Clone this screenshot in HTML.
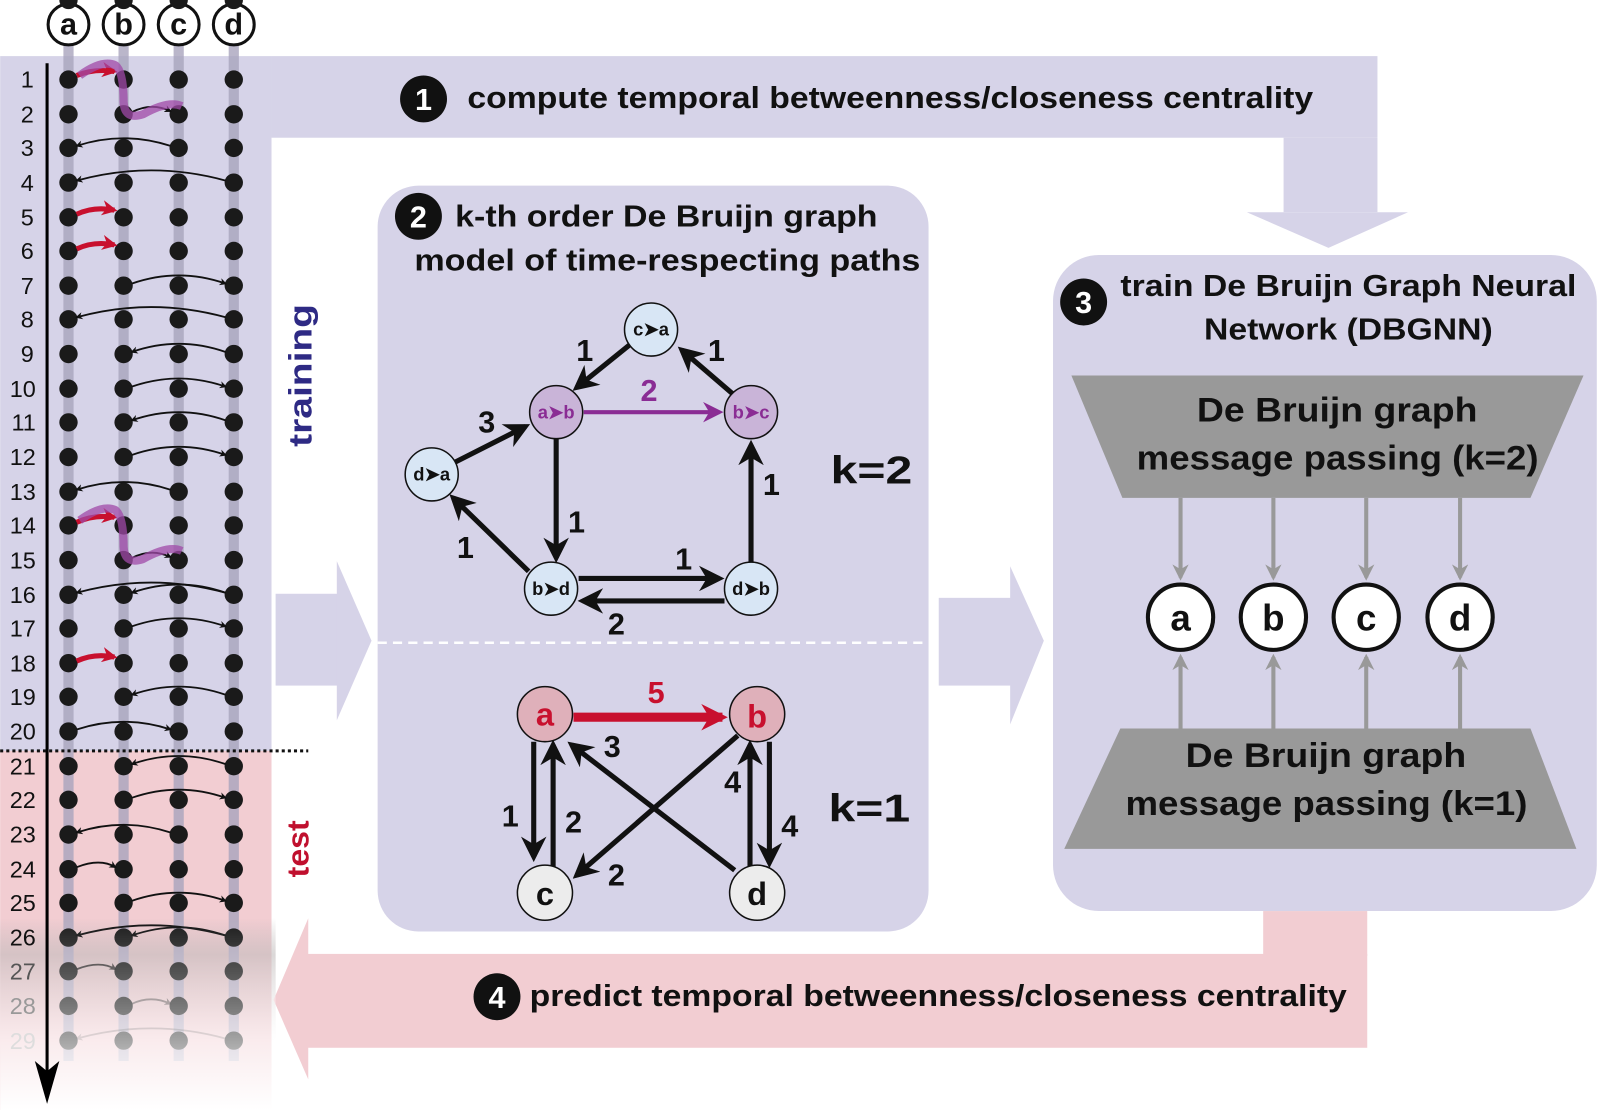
<!DOCTYPE html>
<html><head><meta charset="utf-8"><style>
html,body{margin:0;padding:0;background:#fff;}
svg{display:block;}
text{font-family:"Liberation Sans",sans-serif;}
.b{font-weight:bold;}
</style></head><body>
<svg width="1600" height="1110" viewBox="0 0 1568 1088" xmlns="http://www.w3.org/2000/svg">
<defs>
<marker id="ak" viewBox="0 0 10 10" refX="8" refY="5" markerWidth="5" markerHeight="5" orient="auto"><path d="M0,0 L10,5 L0,10 L3,5z" fill="#111"/></marker>
<marker id="ab" viewBox="0 0 10 10" refX="8" refY="5" markerWidth="4" markerHeight="4" orient="auto"><path d="M0,0 L10,5 L0,10 L3,5z" fill="#111"/></marker>
<marker id="ap" viewBox="0 0 10 10" refX="8" refY="5" markerWidth="5" markerHeight="5" orient="auto"><path d="M0,0 L10,5 L0,10 L3,5z" fill="#8a2c94"/></marker>
<marker id="ar" viewBox="0 0 10 10" refX="8" refY="5" markerWidth="3" markerHeight="3" orient="auto"><path d="M0,0 L10,5 L0,10 L3,5z" fill="#c8102e"/></marker>
<marker id="ag" viewBox="0 0 10 10" refX="8" refY="5" markerWidth="4" markerHeight="4" orient="auto"><path d="M0,0 L10,5 L0,10 L3,5z" fill="#999"/></marker>
<marker id="at" viewBox="0 0 10 10" refX="8" refY="5" markerWidth="26" markerHeight="26" markerUnits="userSpaceOnUse" orient="auto"><path d="M0,0 L10,5 L0,10 L3,5z" fill="#c8102e"/></marker>
<linearGradient id="fade" x1="0" y1="0" x2="0" y2="1"><stop offset="0" stop-color="#fff" stop-opacity="0"/><stop offset="0.45" stop-color="#fff" stop-opacity="0.4"/><stop offset="1" stop-color="#fff" stop-opacity="1"/></linearGradient>
<linearGradient id="gr" x1="0" y1="0" x2="0" y2="1"><stop offset="0" stop-color="#a8a0a0" stop-opacity="0"/><stop offset="0.3" stop-color="#a8a0a0" stop-opacity="0.5"/><stop offset="1" stop-color="#a8a0a0" stop-opacity="0"/></linearGradient>
</defs>

<rect x="0" y="55" width="266" height="681" fill="#d6d3e8"/>
<rect x="0" y="736" width="266" height="352" fill="#f2cdd2"/>
<rect x="0" y="900" width="270" height="120" fill="url(#gr)"/>
<rect x="266" y="55" width="1084" height="80" fill="#d6d3e8"/>
<rect x="1258" y="135" width="92" height="73" fill="#d6d3e8"/>
<polygon points="1222,208 1380,208 1302,243" fill="#d6d3e8"/>
<rect x="370" y="182" width="540" height="731" rx="40" fill="#d6d3e8"/>
<line x1="370" y1="630" x2="910" y2="630" stroke="#fff" stroke-width="2.5" stroke-dasharray="9,6"/>
<rect x="270" y="582" width="62" height="90" fill="#d6d3e8"/>
<polygon points="330,550 364,628 330,706" fill="#d6d3e8"/>
<rect x="920" y="586" width="72" height="86" fill="#d6d3e8"/>
<polygon points="990,555 1023,628 990,710" fill="#d6d3e8"/>
<rect x="1032" y="250" width="533" height="643" rx="45" fill="#d6d3e8"/>
<rect x="1238" y="893" width="102" height="44" fill="#f2cdd2"/>
<rect x="300" y="935" width="1040" height="92" fill="#f2cdd2"/>
<polygon points="302,900 268,980 302,1058" fill="#f2cdd2"/>

<g stroke="#a9a5bd" stroke-width="10" opacity="0.8">
<line x1="67" y1="45" x2="67" y2="1040"/><line x1="121" y1="45" x2="121" y2="1040"/><line x1="175" y1="45" x2="175" y2="1040"/><line x1="229" y1="45" x2="229" y2="1040"/>
</g>
<g fill="#fff" stroke="#111" stroke-width="3">
<circle cx="67" cy="24" r="20"/><circle cx="121" cy="24" r="20"/><circle cx="175" cy="24" r="20"/><circle cx="229" cy="24" r="20"/>
</g>
<g font-size="30" text-anchor="middle" fill="#111">
<text x="67" y="34" class="b">a</text><text x="121" y="34" class="b">b</text><text x="175" y="34" class="b">c</text><text x="229" y="34" class="b">d</text>
</g>

<g fill="#1a1a1a">
<g id="r"><circle cx="67" cy="0" r="9"/><circle cx="121" cy="0" r="9"/><circle cx="175" cy="0" r="9"/><circle cx="229" cy="0" r="9"/></g>
<use href="#r" y="78"/><use href="#r" y="112"/><use href="#r" y="145"/><use href="#r" y="179"/><use href="#r" y="213"/><use href="#r" y="246"/><use href="#r" y="280"/><use href="#r" y="313"/><use href="#r" y="347"/><use href="#r" y="381"/><use href="#r" y="414"/><use href="#r" y="448"/><use href="#r" y="482"/><use href="#r" y="515"/><use href="#r" y="549"/><use href="#r" y="583"/><use href="#r" y="616"/><use href="#r" y="650"/><use href="#r" y="683"/><use href="#r" y="717"/><use href="#r" y="751"/><use href="#r" y="784"/><use href="#r" y="818"/><use href="#r" y="852"/><use href="#r" y="885"/><use href="#r" y="919"/><use href="#r" y="952"/><use href="#r" y="986"/><use href="#r" y="1020"/>
</g>
<g fill="none" stroke="#111" stroke-width="1.8" marker-end="url(#ab)">
<path d="M129,110 Q148,100 167,109"/>
<path d="M167,143 Q121,128 75,143"/>
<path d="M221,177 Q148,157 75,177"/>
<path d="M129,278 Q175,262 221,278"/>
<path d="M221,311 Q148,291 75,311"/>
<path d="M221,345 Q175,329 129,345"/>
<path d="M129,379 Q175,363 221,379"/>
<path d="M221,412 Q175,396 129,412"/>
<path d="M129,446 Q175,430 221,446"/>
<path d="M167,480 Q121,465 75,480"/>
<path d="M129,547 Q148,537 167,546"/>
<path d="M221,581 Q148,561 75,581"/>
<path d="M221,581 Q175,565 129,581"/>
<path d="M129,614 Q175,598 221,614"/>
<path d="M221,681 Q175,665 129,681"/>
<path d="M75,715 Q121,700 167,715"/>
<path d="M221,749 Q175,733 129,749"/>
<path d="M129,782 Q175,766 221,782"/>
<path d="M167,816 Q121,801 75,816"/>
<path d="M75,850 Q98,841 113,850"/>
<path d="M129,883 Q175,867 221,883"/>
<path d="M221,917 Q148,897 75,917"/>
<path d="M221,917 Q175,901 129,917"/>
<path d="M75,950 Q98,941 113,950" opacity="0.8"/>
<path d="M129,984 Q148,975 167,984" opacity="0.5"/>
<path d="M221,1018 Q148,998 75,1018" opacity="0.3"/>
</g>
<g fill="none" stroke="#c8102e" stroke-width="5" marker-end="url(#ar)">
<path d="M75,74 Q92,67 112,70"/><path d="M75,210 Q92,202 112,206"/><path d="M75,244 Q92,236 112,240"/><path d="M75,512 Q92,504 112,507"/><path d="M75,648 Q92,640 112,644"/>
</g>
<g fill="none" stroke="#a04aa8" stroke-width="8" opacity="0.75" stroke-linejoin="round">
<path d="M78,74 Q100,58 113,64 Q121,70 121,100 Q122,118 140,112 Q165,98 178,104"/>
<path d="M78,510 Q100,494 113,500 Q121,506 121,536 Q122,554 140,548 Q165,534 178,540"/>
</g>
<rect x="0" y="900" width="270" height="188" fill="url(#fade)"/>
<g font-size="23" fill="#111" text-anchor="end">
<text x="33" y="86">1</text><text x="33" y="120">2</text><text x="33" y="153">3</text><text x="33" y="187">4</text><text x="33" y="221">5</text><text x="33" y="254">6</text><text x="33" y="288">7</text><text x="33" y="321">8</text><text x="33" y="355">9</text><text x="35" y="389">10</text><text x="35" y="422">11</text><text x="35" y="456">12</text><text x="35" y="490">13</text><text x="35" y="523">14</text><text x="35" y="557">15</text><text x="35" y="591">16</text><text x="35" y="624">17</text><text x="35" y="658">18</text><text x="35" y="691">19</text><text x="35" y="725">20</text><text x="35" y="759">21</text><text x="35" y="792">22</text><text x="35" y="826">23</text><text x="35" y="860">24</text><text x="35" y="893">25</text><text x="35" y="927">26</text><text x="35" y="960" fill="#555">27</text><text x="35" y="994" fill="#999">28</text><text x="35" y="1028" fill="#ddd">29</text>
</g>
<line x1="46" y1="62" x2="46" y2="1060" stroke="#000" stroke-width="3"/>
<polygon points="34,1040 46,1082 58,1040 46,1050" fill="#000"/>
<line x1="0" y1="736" x2="302" y2="736" stroke="#111" stroke-width="3" stroke-dasharray="3,3"/>
<text transform="translate(305,368) rotate(-90)" text-anchor="middle" font-size="32" class="b" fill="#2e2a84" textLength="140" lengthAdjust="spacingAndGlyphs">training</text>
<text transform="translate(302,832) rotate(-90)" text-anchor="middle" font-size="30" class="b" fill="#c0102e" textLength="56" lengthAdjust="spacingAndGlyphs">test</text>

<circle cx="415" cy="97" r="23" fill="#111"/><text x="415" y="108" text-anchor="middle" font-size="30" class="b" fill="#fff">1</text>
<text x="458" y="106" font-size="30" class="b" fill="#111" textLength="829" lengthAdjust="spacingAndGlyphs">compute temporal betweenness/closeness centrality</text>
<circle cx="410" cy="212" r="23" fill="#111"/><text x="410" y="223" text-anchor="middle" font-size="30" class="b" fill="#fff">2</text>
<text x="446" y="222" font-size="30" class="b" fill="#111" textLength="414" lengthAdjust="spacingAndGlyphs">k-th order De Bruijn graph</text>
<text x="406" y="265" font-size="30" class="b" fill="#111" textLength="496" lengthAdjust="spacingAndGlyphs">model of time-respecting paths</text>

<g stroke="#111" stroke-width="5" marker-end="url(#ak)" fill="none">
<line x1="617" y1="338" x2="565" y2="380"/>
<line x1="718" y1="386" x2="668" y2="343"/>
<line x1="446" y1="453" x2="515" y2="418"/>
<line x1="545" y1="430" x2="545" y2="547"/>
<line x1="518" y1="560" x2="444" y2="488"/>
<line x1="567" y1="567" x2="705" y2="567"/>
<line x1="710" y1="589" x2="571" y2="589"/>
<line x1="736" y1="551" x2="736" y2="436"/>
</g>
<line x1="572" y1="404" x2="705" y2="404" stroke="#8a2c94" stroke-width="4" marker-end="url(#ap)"/>
<g stroke="#111" stroke-width="1.5">
<circle cx="638" cy="323" r="26" fill="#d8e6f5"/>
<circle cx="545" cy="404" r="26" fill="#c9b4d8"/>
<circle cx="736" cy="404" r="26" fill="#c9b4d8"/>
<circle cx="423" cy="465" r="26" fill="#d8e6f5"/>
<circle cx="540" cy="577" r="26" fill="#d8e6f5"/>
<circle cx="736" cy="577" r="26" fill="#d8e6f5"/>
</g>
<g font-size="18" text-anchor="middle">
<text x="638" y="329" class="b" fill="#111">c➤a</text>
<text x="545" y="410" class="b" fill="#8a2c94">a➤b</text>
<text x="736" y="410" class="b" fill="#8a2c94">b➤c</text>
<text x="423" y="471" class="b" fill="#111">d➤a</text>
<text x="540" y="583" class="b" fill="#111">b➤d</text>
<text x="736" y="583" class="b" fill="#111">d➤b</text>
</g>
<g font-size="30" class="b" fill="#111" text-anchor="middle">
<text x="573" y="354">1</text><text x="702" y="354">1</text><text x="636" y="393" fill="#8a2c94">2</text>
<text x="477" y="424">3</text><text x="565" y="522">1</text><text x="756" y="485">1</text>
<text x="456" y="547">1</text><text x="670" y="558">1</text><text x="604" y="622">2</text>
<text x="854" y="474" font-size="38" textLength="80" lengthAdjust="spacingAndGlyphs">k=2</text>
<text x="852" y="805" font-size="38" textLength="80" lengthAdjust="spacingAndGlyphs">k=1</text>
</g>

<line x1="562" y1="703" x2="708" y2="703" stroke="#c8102e" stroke-width="9" marker-end="url(#at)"/>
<g stroke="#111" stroke-width="5" marker-end="url(#ak)" fill="none">
<line x1="523" y1="727" x2="523" y2="840"/>
<line x1="542" y1="850" x2="542" y2="730"/>
<line x1="720" y1="853" x2="560" y2="730"/>
<line x1="723" y1="721" x2="565" y2="858"/>
<line x1="735" y1="849" x2="735" y2="730"/>
<line x1="754" y1="727" x2="754" y2="846"/>
</g>
<g stroke="#111" stroke-width="1.5">
<circle cx="534" cy="700" r="27" fill="#dfb0ba"/>
<circle cx="742" cy="700" r="27" fill="#dfb0ba"/>
<circle cx="534" cy="875" r="27" fill="#ececec"/>
<circle cx="742" cy="875" r="27" fill="#ececec"/>
</g>
<g font-size="32" text-anchor="middle">
<text x="534" y="711" class="b" fill="#c8102e">a</text>
<text x="742" y="713" class="b" fill="#c8102e">b</text>
<text x="534" y="887" class="b" fill="#111">c</text>
<text x="742" y="887" class="b" fill="#111">d</text>
</g>
<g font-size="30" class="b" fill="#111" text-anchor="middle">
<text x="643" y="689" fill="#c8102e">5</text>
<text x="600" y="742">3</text><text x="500" y="810">1</text><text x="562" y="816">2</text>
<text x="604" y="868">2</text><text x="718" y="777">4</text><text x="774" y="820">4</text>
</g>

<circle cx="1062" cy="296" r="23" fill="#111"/><text x="1062" y="307" text-anchor="middle" font-size="30" class="b" fill="#fff">3</text>
<text x="1098" y="290" font-size="30" class="b" fill="#111" textLength="447" lengthAdjust="spacingAndGlyphs">train De Bruijn Graph Neural</text>
<text x="1180" y="333" font-size="30" class="b" fill="#111" textLength="283" lengthAdjust="spacingAndGlyphs">Network (DBGNN)</text>
<polygon points="1050,368 1552,368 1500,488 1100,488" fill="#999"/>
<polygon points="1098,714 1500,714 1545,832 1043,832" fill="#999"/>
<g font-size="34" class="b" fill="#111">
<text x="1173" y="413" textLength="275" lengthAdjust="spacingAndGlyphs">De Bruijn graph</text>
<text x="1114" y="460" textLength="394" lengthAdjust="spacingAndGlyphs">message passing (k=2)</text>
<text x="1162" y="752" textLength="275" lengthAdjust="spacingAndGlyphs">De Bruijn graph</text>
<text x="1103" y="799" textLength="394" lengthAdjust="spacingAndGlyphs">message passing (k=1)</text>
</g>
<g stroke="#999" stroke-width="4" marker-end="url(#ag)">
<line x1="1157" y1="488" x2="1157" y2="566"/><line x1="1248" y1="488" x2="1248" y2="566"/><line x1="1339" y1="488" x2="1339" y2="566"/><line x1="1431" y1="488" x2="1431" y2="566"/>
<line x1="1157" y1="714" x2="1157" y2="644"/><line x1="1248" y1="714" x2="1248" y2="644"/><line x1="1339" y1="714" x2="1339" y2="644"/><line x1="1431" y1="714" x2="1431" y2="644"/>
</g>
<g fill="#fff" stroke="#111" stroke-width="4">
<circle cx="1157" cy="605" r="32"/><circle cx="1248" cy="605" r="32"/><circle cx="1339" cy="605" r="32"/><circle cx="1431" cy="605" r="32"/>
</g>
<g font-size="36" class="b" fill="#111" text-anchor="middle">
<text x="1157" y="618">a</text><text x="1248" y="618">b</text><text x="1339" y="618">c</text><text x="1431" y="618">d</text>
</g>

<circle cx="487" cy="977" r="23" fill="#111"/><text x="487" y="988" text-anchor="middle" font-size="30" class="b" fill="#fff">4</text>
<text x="519" y="986" font-size="30" class="b" fill="#111" textLength="801" lengthAdjust="spacingAndGlyphs">predict temporal betweenness/closeness centrality</text>
</svg>
</body></html>
